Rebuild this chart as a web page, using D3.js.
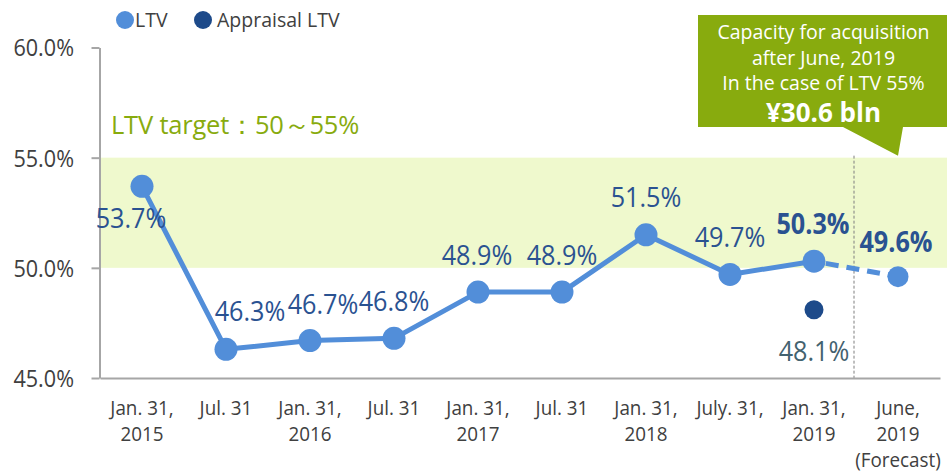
<!DOCTYPE html>
<html>
<head>
<meta charset="utf-8">
<script src="https://cdn.jsdelivr.net/npm/d3@7"></script>
<style>
  html, body { margin: 0; padding: 0; background: #ffffff; }
  svg { display: block; font-family: "Open Sans", "Noto Sans", sans-serif; }
</style>
</head>
<body>
<svg id="chart" width="948" height="471"></svg>
<script>
// Period labels (one entry per line of the axis label)
const categoryLabels = [
  ["Jan. 31,", "2015"],
  ["Jul. 31"],
  ["Jan. 31,", "2016"],
  ["Jul. 31"],
  ["Jan. 31,", "2017"],
  ["Jul. 31"],
  ["Jan. 31,", "2018"],
  ["July. 31,"],
  ["Jan. 31,", "2019"],
  ["June,", "2019", "(Forecast)"]
];

// LTV (%) per period; the last value is the forecast
const ltv = [53.7, 46.3, 46.7, 46.8, 48.9, 48.9, 51.5, 49.7, 50.3, 49.6];

// Appraisal LTV (%) – only reported for Jan. 31, 2019
const appraisalLtv = [null, null, null, null, null, null, null, null, 48.1, null];

// Values shown in bold
const boldLabel = [false, false, false, false, false, false, false, false, true, true];

const yTicks = [45, 50, 55, 60];
const targetRange = [50, 55];

const calloutLines = ["Capacity for acquisition", "after June, 2019", "In the case of LTV 55%"];
const calloutAmount = "¥30.6 bln";

const forecastIndex = ltv.length - 1;

// ---- layout ----
const svg = d3.select("#chart");
const W = 948;

const x = d3.scaleBand()
  .domain(d3.range(categoryLabels.length))
  .range([100, 940])
  .padding(0);
const cx = i => x(i) + x.bandwidth() / 2;

const y = d3.scaleLinear().domain([45, 60]).range([378, 47.5]);

const COL = {
  line: "#528ED9",
  appraisal: "#1D4A8A",
  label: "#2A5291",
  label2: "#43626F",
  axis: "#A6A6A6",
  text: "#404040",
  band: "#EFF9CD",
  green: "#88AB0E"
};

// target band
svg.append("rect")
  .attr("x", 100).attr("y", y(targetRange[1]))
  .attr("width", W - 1 - 100)
  .attr("height", y(targetRange[0]) - y(targetRange[1]))
  .attr("fill", COL.band);

svg.append("text")
  .attr("x", 111).attr("y", y(targetRange[1]) - 24)
  .attr("font-size", 25.5).attr("fill", COL.green)
  .attr("letter-spacing", -0.2)
  .text("LTV target：50～55%");

// divider between results and forecast
const divX = (cx(forecastIndex - 1) + cx(forecastIndex)) / 2 - 2;
svg.append("line")
  .attr("x1", divX).attr("x2", divX)
  .attr("y1", y(targetRange[1]) - 2).attr("y2", y(45))
  .attr("stroke", "#7F7F7F").attr("stroke-width", 1)
  .attr("stroke-dasharray", "3,2");

// y axis
const yAxis = svg.append("g")
  .attr("transform", "translate(99.5,0)")
  .call(d3.axisLeft(y).tickValues(yTicks).tickSize(8).tickSizeOuter(0)
    .tickFormat(d => d3.format(".1f")(d) + "%"));
yAxis.select(".domain").attr("stroke", COL.axis).attr("stroke-width", 2);
yAxis.selectAll(".tick line").attr("stroke", COL.axis).attr("stroke-width", 2);
yAxis.selectAll(".tick text")
  .attr("x", 0).attr("dy", "0.36em")
  .attr("transform", "translate(-25.5,0) scale(0.92,1)")
  .attr("font-size", 23.5).attr("fill", COL.text)
  .attr("font-family", "'Open Sans', sans-serif");

// x axis
const xAxis = svg.append("g")
  .attr("transform", `translate(0,${y(45)})`)
  .call(d3.axisBottom(x).tickSize(0).tickSizeOuter(0).tickFormat(() => ""));
xAxis.select(".domain").attr("stroke", COL.axis).attr("stroke-width", 2);
xAxis.selectAll(".tick text").each(function (i) {
  const t = d3.select(this)
    .attr("y", 0).attr("dy", null)
    .attr("font-size", 20.5).attr("fill", COL.text)
    .attr("font-family", "'Open Sans', sans-serif")
    .attr("transform", "scale(0.92,1)");
  categoryLabels[i].forEach((s, k) => {
    t.append("tspan").attr("x", 0).attr("y", 37.5 + k * 25.8).text(s);
  });
});

// LTV line: solid for results, dashed towards the forecast
const lineGen = d3.line().x(d => cx(d.i)).y(d => y(d.v));
const pts = ltv.map((v, i) => ({ i, v }));
svg.append("path")
  .datum(pts.slice(0, forecastIndex))
  .attr("d", lineGen)
  .attr("fill", "none").attr("stroke", COL.line)
  .attr("stroke-width", 5).attr("stroke-linejoin", "round");
svg.append("path")
  .datum(pts.slice(forecastIndex - 1))
  .attr("d", lineGen)
  .attr("fill", "none").attr("stroke", COL.line)
  .attr("stroke-width", 5).attr("stroke-dasharray", "13,8")
  .attr("stroke-dashoffset", -12);

svg.selectAll("circle.ltv")
  .data(pts)
  .join("circle")
  .attr("class", "ltv")
  .attr("cx", d => cx(d.i)).attr("cy", d => y(d.v))
  .attr("r", d => d.i === forecastIndex ? 10.5 : 11.5)
  .attr("fill", COL.line);

// appraisal LTV
const apPts = appraisalLtv.map((v, i) => ({ i, v })).filter(d => d.v != null);
svg.selectAll("circle.ap")
  .data(apPts)
  .join("circle")
  .attr("class", "ap")
  .attr("cx", d => cx(d.i)).attr("cy", d => y(d.v))
  .attr("r", 9.5).attr("fill", COL.appraisal);

// value labels (offsets relative to each point)
const labelOffset = [
  [-11, 42], [24, -28], [13, -27], [0, -27], [-1, -27],
  [0, -27], [0, -28], [0, -27], [-1, -27], [-2, -25]
];
const fmt = d3.format(".1f");
pts.forEach(d => {
  const [dx, dy] = labelOffset[d.i];
  svg.append("g")
    .attr("transform", `translate(${cx(d.i) + dx},${y(d.v) + dy})`)
    .append("text")
    .attr("text-anchor", "middle")
    .attr("transform", "scale(0.9,1)")
    .attr("font-size", 28)
    .attr("font-weight", boldLabel[d.i] ? 700 : 400)
    .attr("fill", COL.label)
    .text(fmt(d.v) + "%");
});
apPts.forEach(d => {
  svg.append("g")
    .attr("transform", `translate(${cx(d.i)},${y(d.v) + 51})`)
    .append("text")
    .attr("text-anchor", "middle")
    .attr("transform", "scale(0.9,1)")
    .attr("font-size", 28)
    .attr("fill", COL.label2)
    .text(fmt(d.v) + "%");
});

// callout
const tipX = cx(forecastIndex), tipY = y(55) - 2;
const bx0 = 698, bx1 = 947, by0 = 15, by1 = 127;
svg.append("path")
  .attr("d", `M${bx0},${by0}H${bx1}V${by1}H${tipX + 5}L${tipX},${tipY}L${tipX - 55},${by1}H${bx0}Z`)
  .attr("fill", COL.green);
const ccx = (bx0 + bx1) / 2 + 1;
calloutLines.forEach((s, k) => {
  svg.append("text")
    .attr("x", ccx).attr("y", 39 + k * 25.7)
    .attr("text-anchor", "middle")
    .attr("font-size", 19.5).attr("fill", "#ffffff")
    .text(s);
});
svg.append("text")
  .attr("x", ccx).attr("y", 121.5)
  .attr("text-anchor", "middle")
  .attr("font-size", 26).attr("font-weight", 700).attr("fill", "#ffffff")
  .text(calloutAmount);

// legend
const legend = [
  { name: "LTV", color: COL.line, cx: 125, tx: 135 },
  { name: "Appraisal LTV", color: COL.appraisal, cx: 203, tx: 217 }
];
legend.forEach(l => {
  svg.append("circle").attr("cx", l.cx).attr("cy", 20).attr("r", 9).attr("fill", l.color);
  svg.append("text").attr("x", l.tx).attr("y", 27)
    .attr("font-size", 19.5).attr("fill", COL.text).text(l.name);
});
</script>
</body>
</html>
